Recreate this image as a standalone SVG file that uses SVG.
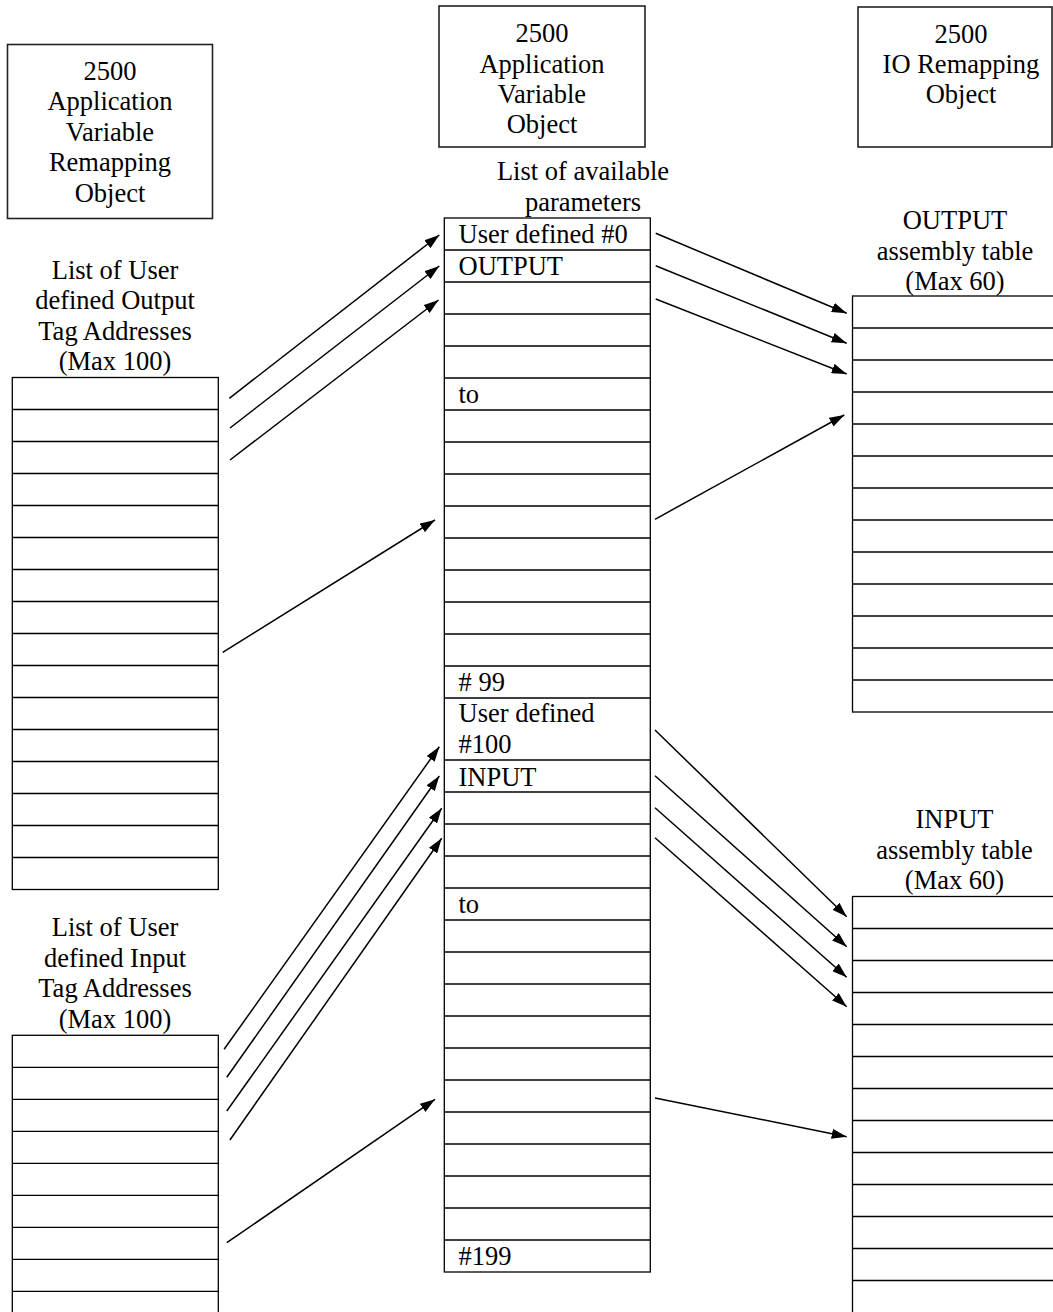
<svg xmlns="http://www.w3.org/2000/svg" width="1053" height="1312" viewBox="0 0 1053 1312">
<style>
  text { font-family: "Liberation Serif", "Times New Roman", serif; font-size: 26.5px; fill: #000; }
  .c { text-anchor: middle; }
  .box { fill: none; stroke: #222; stroke-width: 1.6; }
  .tbl { fill: none; stroke: #000; stroke-width: 1.3; }
  .row { stroke: #000; stroke-width: 1.3; }
  .con { stroke: #000; stroke-width: 1.5; fill: none; marker-end: url(#ah); }
</style>
<defs>
  <marker id="ah" markerWidth="15" markerHeight="10" refX="15" refY="5" orient="auto" markerUnits="userSpaceOnUse">
    <path d="M0,0 L15,5 L0,10 z" fill="#000"/>
  </marker>
</defs>
<rect width="1053" height="1312" fill="#fff"/>

<g id="avro-box">
  <rect class="box" x="7.5" y="44.5" width="205" height="174"/>
  <text class="c" x="110" y="79.5">2500</text>
  <text class="c" x="110" y="110">Application</text>
  <text class="c" x="110" y="140.5">Variable</text>
  <text class="c" x="110" y="171">Remapping</text>
  <text class="c" x="110" y="201.5">Object</text>
</g>

<g id="avo-box">
  <rect class="box" x="439" y="6" width="206" height="141"/>
  <text class="c" x="542" y="42">2500</text>
  <text class="c" x="542" y="72.5">Application</text>
  <text class="c" x="542" y="103">Variable</text>
  <text class="c" x="542" y="133">Object</text>
</g>

<g id="iro-box">
  <rect class="box" x="858" y="7" width="194" height="140"/>
  <text class="c" x="961" y="42.5">2500</text>
  <text class="c" x="961" y="72.5">IO Remapping</text>
  <text class="c" x="961" y="103">Object</text>
</g>

<g id="output-tag-list">
  <text class="c" x="115" y="278.5">List of User</text>
  <text class="c" x="115" y="309">defined Output</text>
  <text class="c" x="115" y="340">Tag Addresses</text>
  <text class="c" x="115" y="370">(Max 100)</text>
  <rect class="tbl" x="12.3" y="377.5" width="206" height="512"/>
  <g class="row">
    <line x1="12.3" x2="218.3" y1="409.5" y2="409.5"/>
    <line x1="12.3" x2="218.3" y1="441.5" y2="441.5"/>
    <line x1="12.3" x2="218.3" y1="473.5" y2="473.5"/>
    <line x1="12.3" x2="218.3" y1="505.5" y2="505.5"/>
    <line x1="12.3" x2="218.3" y1="537.5" y2="537.5"/>
    <line x1="12.3" x2="218.3" y1="569.5" y2="569.5"/>
    <line x1="12.3" x2="218.3" y1="601.5" y2="601.5"/>
    <line x1="12.3" x2="218.3" y1="633.5" y2="633.5"/>
    <line x1="12.3" x2="218.3" y1="665.5" y2="665.5"/>
    <line x1="12.3" x2="218.3" y1="697.5" y2="697.5"/>
    <line x1="12.3" x2="218.3" y1="729.5" y2="729.5"/>
    <line x1="12.3" x2="218.3" y1="761.5" y2="761.5"/>
    <line x1="12.3" x2="218.3" y1="793.5" y2="793.5"/>
    <line x1="12.3" x2="218.3" y1="825.5" y2="825.5"/>
    <line x1="12.3" x2="218.3" y1="857.5" y2="857.5"/>
  </g>
</g>

<g id="input-tag-list">
  <text class="c" x="115" y="936">List of User</text>
  <text class="c" x="115" y="966.5">defined Input</text>
  <text class="c" x="115" y="997">Tag Addresses</text>
  <text class="c" x="115" y="1027.5">(Max 100)</text>
  <rect class="tbl" x="12.3" y="1035.3" width="206" height="300"/>
  <g class="row">
    <line x1="12.3" x2="218.3" y1="1067.3" y2="1067.3"/>
    <line x1="12.3" x2="218.3" y1="1099.3" y2="1099.3"/>
    <line x1="12.3" x2="218.3" y1="1131.3" y2="1131.3"/>
    <line x1="12.3" x2="218.3" y1="1163.3" y2="1163.3"/>
    <line x1="12.3" x2="218.3" y1="1195.3" y2="1195.3"/>
    <line x1="12.3" x2="218.3" y1="1227.3" y2="1227.3"/>
    <line x1="12.3" x2="218.3" y1="1259.3" y2="1259.3"/>
    <line x1="12.3" x2="218.3" y1="1291.3" y2="1291.3"/>
  </g>
</g>

<g id="parameter-list">
  <text class="c" x="583" y="180">List of available</text>
  <text class="c" x="583" y="210.5">parameters</text>
  <rect class="tbl" x="444.3" y="218" width="206" height="1054"/>
  <g class="row">
    <line x1="444.3" x2="650.3" y1="250" y2="250"/>
    <line x1="444.3" x2="650.3" y1="282" y2="282"/>
    <line x1="444.3" x2="650.3" y1="314" y2="314"/>
    <line x1="444.3" x2="650.3" y1="346" y2="346"/>
    <line x1="444.3" x2="650.3" y1="378" y2="378"/>
    <line x1="444.3" x2="650.3" y1="410" y2="410"/>
    <line x1="444.3" x2="650.3" y1="442" y2="442"/>
    <line x1="444.3" x2="650.3" y1="474" y2="474"/>
    <line x1="444.3" x2="650.3" y1="506" y2="506"/>
    <line x1="444.3" x2="650.3" y1="538" y2="538"/>
    <line x1="444.3" x2="650.3" y1="570" y2="570"/>
    <line x1="444.3" x2="650.3" y1="602" y2="602"/>
    <line x1="444.3" x2="650.3" y1="634" y2="634"/>
    <line x1="444.3" x2="650.3" y1="666" y2="666"/>
    <line x1="444.3" x2="650.3" y1="698" y2="698"/>
    <line x1="444.3" x2="650.3" y1="760" y2="760"/>
    <line x1="444.3" x2="650.3" y1="792" y2="792"/>
    <line x1="444.3" x2="650.3" y1="824" y2="824"/>
    <line x1="444.3" x2="650.3" y1="856" y2="856"/>
    <line x1="444.3" x2="650.3" y1="888" y2="888"/>
    <line x1="444.3" x2="650.3" y1="920" y2="920"/>
    <line x1="444.3" x2="650.3" y1="952" y2="952"/>
    <line x1="444.3" x2="650.3" y1="984" y2="984"/>
    <line x1="444.3" x2="650.3" y1="1016" y2="1016"/>
    <line x1="444.3" x2="650.3" y1="1048" y2="1048"/>
    <line x1="444.3" x2="650.3" y1="1080" y2="1080"/>
    <line x1="444.3" x2="650.3" y1="1112" y2="1112"/>
    <line x1="444.3" x2="650.3" y1="1144" y2="1144"/>
    <line x1="444.3" x2="650.3" y1="1176" y2="1176"/>
    <line x1="444.3" x2="650.3" y1="1208" y2="1208"/>
    <line x1="444.3" x2="650.3" y1="1240" y2="1240"/>
  </g>
  <text x="458.5" y="243">User defined #0</text>
  <text x="458.5" y="275">OUTPUT</text>
  <text x="458.5" y="403">to</text>
  <text x="458.5" y="690.5">#&#160;99</text>
  <text x="458.5" y="722">User defined</text>
  <text x="458.5" y="753">#100</text>
  <text x="458.5" y="785.5">INPUT</text>
  <text x="458.5" y="913">to</text>
  <text x="458.5" y="1265">#199</text>
</g>

<g id="output-assembly-table">
  <text class="c" x="955" y="229">OUTPUT</text>
  <text class="c" x="955" y="260">assembly table</text>
  <text class="c" x="955" y="290">(Max 60)</text>
  <rect class="tbl" x="852.5" y="296" width="210" height="416"/>
  <g class="row">
    <line x1="852.5" x2="1060" y1="328" y2="328"/>
    <line x1="852.5" x2="1060" y1="360" y2="360"/>
    <line x1="852.5" x2="1060" y1="392" y2="392"/>
    <line x1="852.5" x2="1060" y1="424" y2="424"/>
    <line x1="852.5" x2="1060" y1="456" y2="456"/>
    <line x1="852.5" x2="1060" y1="488" y2="488"/>
    <line x1="852.5" x2="1060" y1="520" y2="520"/>
    <line x1="852.5" x2="1060" y1="552" y2="552"/>
    <line x1="852.5" x2="1060" y1="584" y2="584"/>
    <line x1="852.5" x2="1060" y1="616" y2="616"/>
    <line x1="852.5" x2="1060" y1="648" y2="648"/>
    <line x1="852.5" x2="1060" y1="680" y2="680"/>
  </g>
</g>

<g id="input-assembly-table">
  <text class="c" x="954.5" y="828">INPUT</text>
  <text class="c" x="954.5" y="858.5">assembly table</text>
  <text class="c" x="954.5" y="889">(Max 60)</text>
  <rect class="tbl" x="852.5" y="896.5" width="210" height="440"/>
  <g class="row">
    <line x1="852.5" x2="1060" y1="928.5" y2="928.5"/>
    <line x1="852.5" x2="1060" y1="960.5" y2="960.5"/>
    <line x1="852.5" x2="1060" y1="992.5" y2="992.5"/>
    <line x1="852.5" x2="1060" y1="1024.5" y2="1024.5"/>
    <line x1="852.5" x2="1060" y1="1056.5" y2="1056.5"/>
    <line x1="852.5" x2="1060" y1="1088.5" y2="1088.5"/>
    <line x1="852.5" x2="1060" y1="1120.5" y2="1120.5"/>
    <line x1="852.5" x2="1060" y1="1152.5" y2="1152.5"/>
    <line x1="852.5" x2="1060" y1="1184.5" y2="1184.5"/>
    <line x1="852.5" x2="1060" y1="1216.5" y2="1216.5"/>
    <line x1="852.5" x2="1060" y1="1248.5" y2="1248.5"/>
    <line x1="852.5" x2="1060" y1="1280.5" y2="1280.5"/>
  </g>
</g>

<g id="connectors">
  <line class="con" x1="229.3" y1="398.3" x2="439.3" y2="235"/>
  <line class="con" x1="230" y1="428" x2="439.3" y2="266"/>
  <line class="con" x1="230" y1="460" x2="438.5" y2="300"/>
  <line class="con" x1="222.7" y1="652.3" x2="435" y2="520"/>

  <line class="con" x1="655.7" y1="233.3" x2="846.7" y2="313.3"/>
  <line class="con" x1="655.7" y1="265.7" x2="846.7" y2="343.3"/>
  <line class="con" x1="655.7" y1="299" x2="846.7" y2="374"/>
  <line class="con" x1="655" y1="519.3" x2="844.3" y2="415"/>

  <line class="con" x1="224.1" y1="1049.3" x2="439.3" y2="746.7"/>
  <line class="con" x1="226.8" y1="1077.3" x2="439.3" y2="776"/>
  <line class="con" x1="226.8" y1="1111" x2="441.7" y2="808.3"/>
  <line class="con" x1="229.9" y1="1140" x2="441.7" y2="838.3"/>
  <line class="con" x1="226.8" y1="1242.7" x2="435" y2="1099.3"/>

  <line class="con" x1="655" y1="730" x2="846.7" y2="916.7"/>
  <line class="con" x1="655" y1="775.7" x2="846.7" y2="946.7"/>
  <line class="con" x1="655" y1="807.7" x2="846.7" y2="977.3"/>
  <line class="con" x1="655" y1="837.7" x2="846.7" y2="1006.7"/>
  <line class="con" x1="655" y1="1098" x2="846.7" y2="1136.7"/>
</g>
</svg>
